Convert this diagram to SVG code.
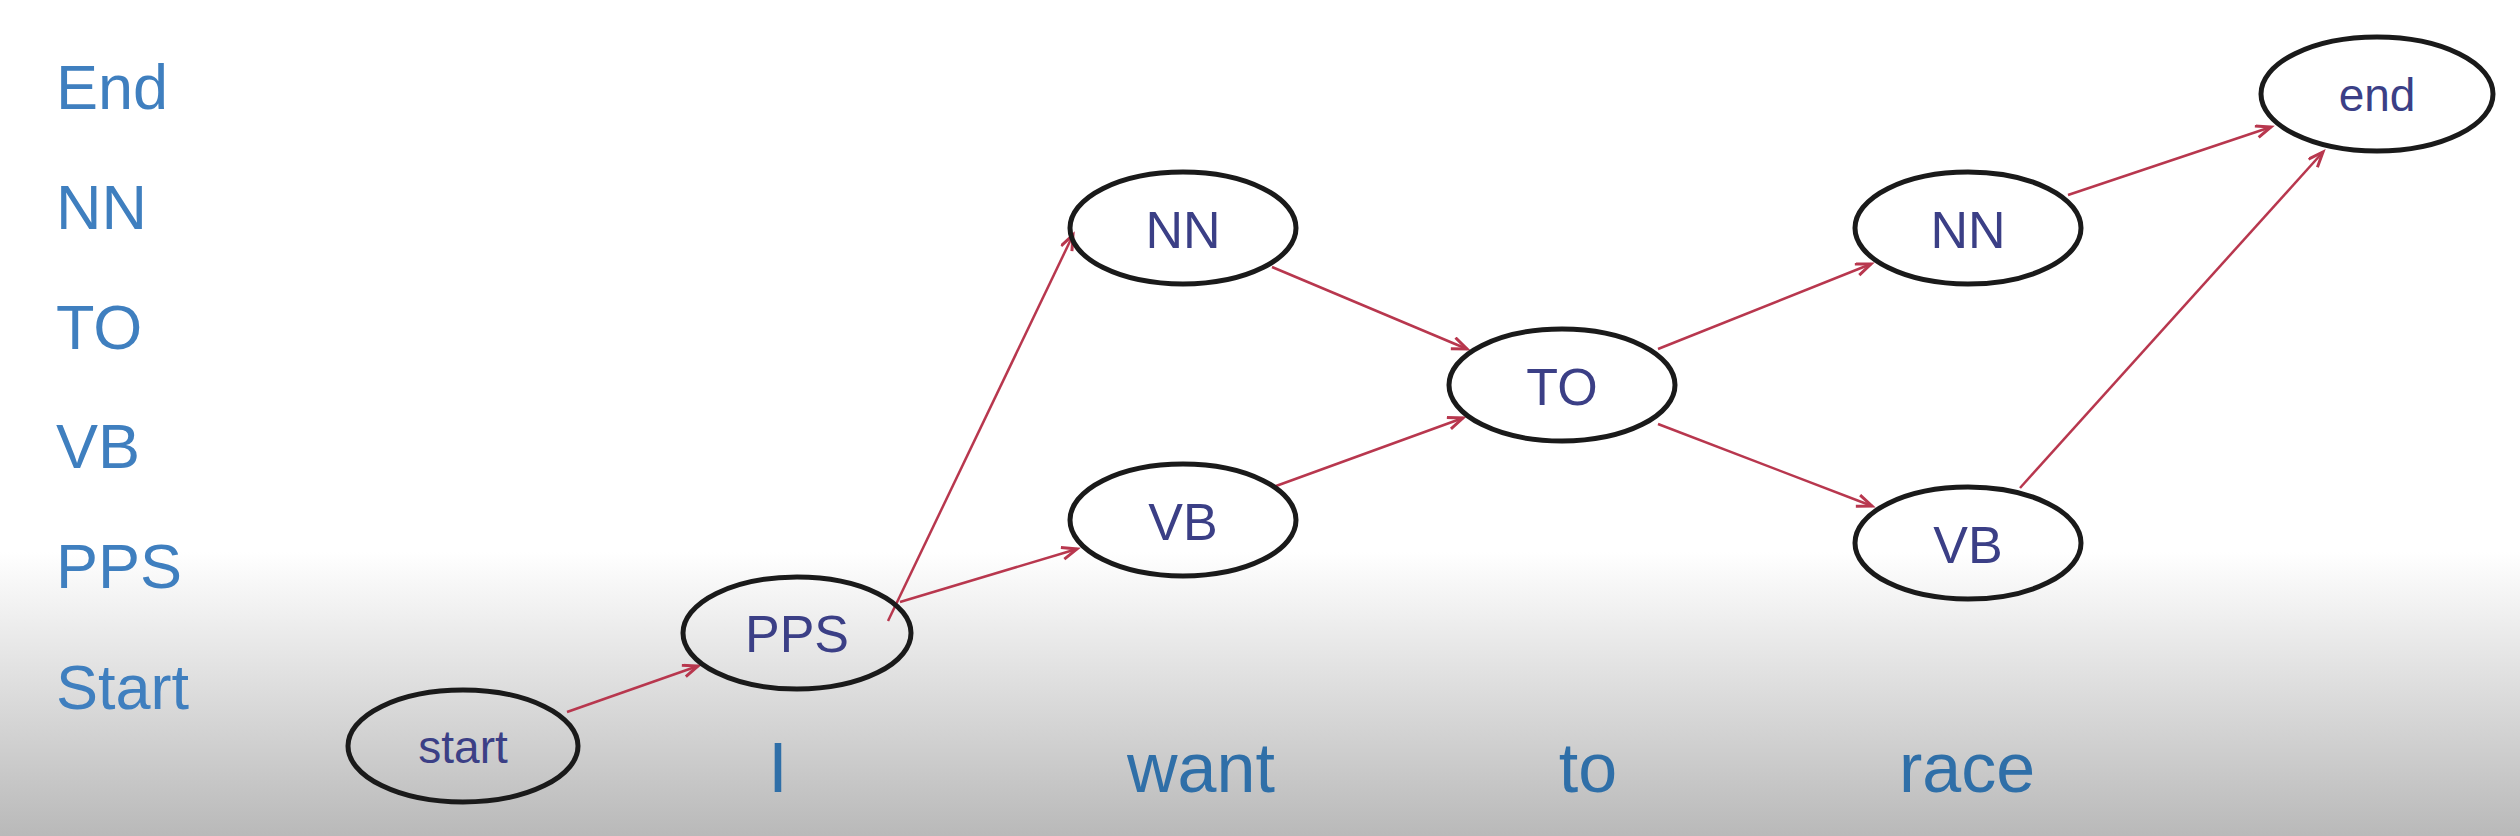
<svg xmlns="http://www.w3.org/2000/svg" width="2520" height="836" viewBox="0 0 2520 836">
<style>
.node ellipse{fill:none;stroke:#1a1a1a;stroke-width:5}
.node text{font-family:"Liberation Sans",Arial,sans-serif;fill:#3b3f86;text-anchor:middle}
.big{font-size:52px}
.small{font-size:46px}
.axis text{font-family:"Liberation Sans",Arial,sans-serif;font-size:63px;fill:#3f7fbf}
.words text{font-family:"Liberation Sans",Arial,sans-serif;font-size:70px;fill:#2f6fa8;text-anchor:middle}
.edges line{stroke:#b8374e;stroke-width:2.5;marker-end:url(#arr)}
</style>
<defs>
<linearGradient id="bg" x1="0" y1="0" x2="0" y2="1">
<stop offset="0" stop-color="#ffffff"/>
<stop offset="0.66" stop-color="#ffffff"/>
<stop offset="0.8" stop-color="#e2e2e2"/>
<stop offset="1" stop-color="#b9b9b9"/>
</linearGradient>
<marker id="arr" markerUnits="userSpaceOnUse" markerWidth="20" markerHeight="16" refX="16" refY="7" orient="auto">
<path d="M1,1 L16,7 L1,13" fill="none" stroke="#b8374e" stroke-width="3"/>
</marker>
</defs>
<rect x="0" y="0" width="2520" height="836" fill="url(#bg)"/>
<g id="axis" class="axis">
<text x="56" y="109">End</text>
<text x="56" y="229">NN</text>
<text x="56" y="349">TO</text>
<text x="56" y="468">VB</text>
<text x="56" y="588">PPS</text>
<text x="56" y="709">Start</text>
</g>
<g id="words" class="words">
<text x="778" y="792">I</text>
<text x="1201" y="792">want</text>
<text x="1588" y="792">to</text>
<text x="1967" y="792">race</text>
</g>
<g id="edges" class="edges">
<line x1="567" y1="712" x2="698" y2="666"/>
<line x1="888" y1="621" x2="1073" y2="235"/>
<line x1="900" y1="602" x2="1077" y2="549"/>
<line x1="1272" y1="267" x2="1467" y2="349"/>
<line x1="1276" y1="486" x2="1463" y2="418"/>
<line x1="1658" y1="349" x2="1871" y2="264"/>
<line x1="1658" y1="424" x2="1872" y2="506"/>
<line x1="2068" y1="195" x2="2271" y2="127"/>
<line x1="2020" y1="488" x2="2323" y2="152"/>
</g>
<g id="n_start" class="node"><ellipse cx="463" cy="746" rx="115" ry="56"/><text class="small" x="463" y="763">start</text></g>
<g id="n_pps" class="node"><ellipse cx="797" cy="633" rx="114" ry="56"/><text class="big" x="797" y="652">PPS</text></g>
<g id="n_nn1" class="node"><ellipse cx="1183" cy="228" rx="113" ry="56"/><text class="big" x="1183" y="248">NN</text></g>
<g id="n_vb1" class="node"><ellipse cx="1183" cy="520" rx="113" ry="56"/><text class="big" x="1183" y="540">VB</text></g>
<g id="n_to" class="node"><ellipse cx="1562" cy="385" rx="113" ry="56"/><text class="big" x="1562" y="405">TO</text></g>
<g id="n_nn2" class="node"><ellipse cx="1968" cy="228" rx="113" ry="56"/><text class="big" x="1968" y="248">NN</text></g>
<g id="n_vb2" class="node"><ellipse cx="1968" cy="543" rx="113" ry="56"/><text class="big" x="1968" y="563">VB</text></g>
<g id="n_end" class="node"><ellipse cx="2377" cy="94" rx="116" ry="57"/><text class="small" x="2377" y="111">end</text></g>
</svg>
